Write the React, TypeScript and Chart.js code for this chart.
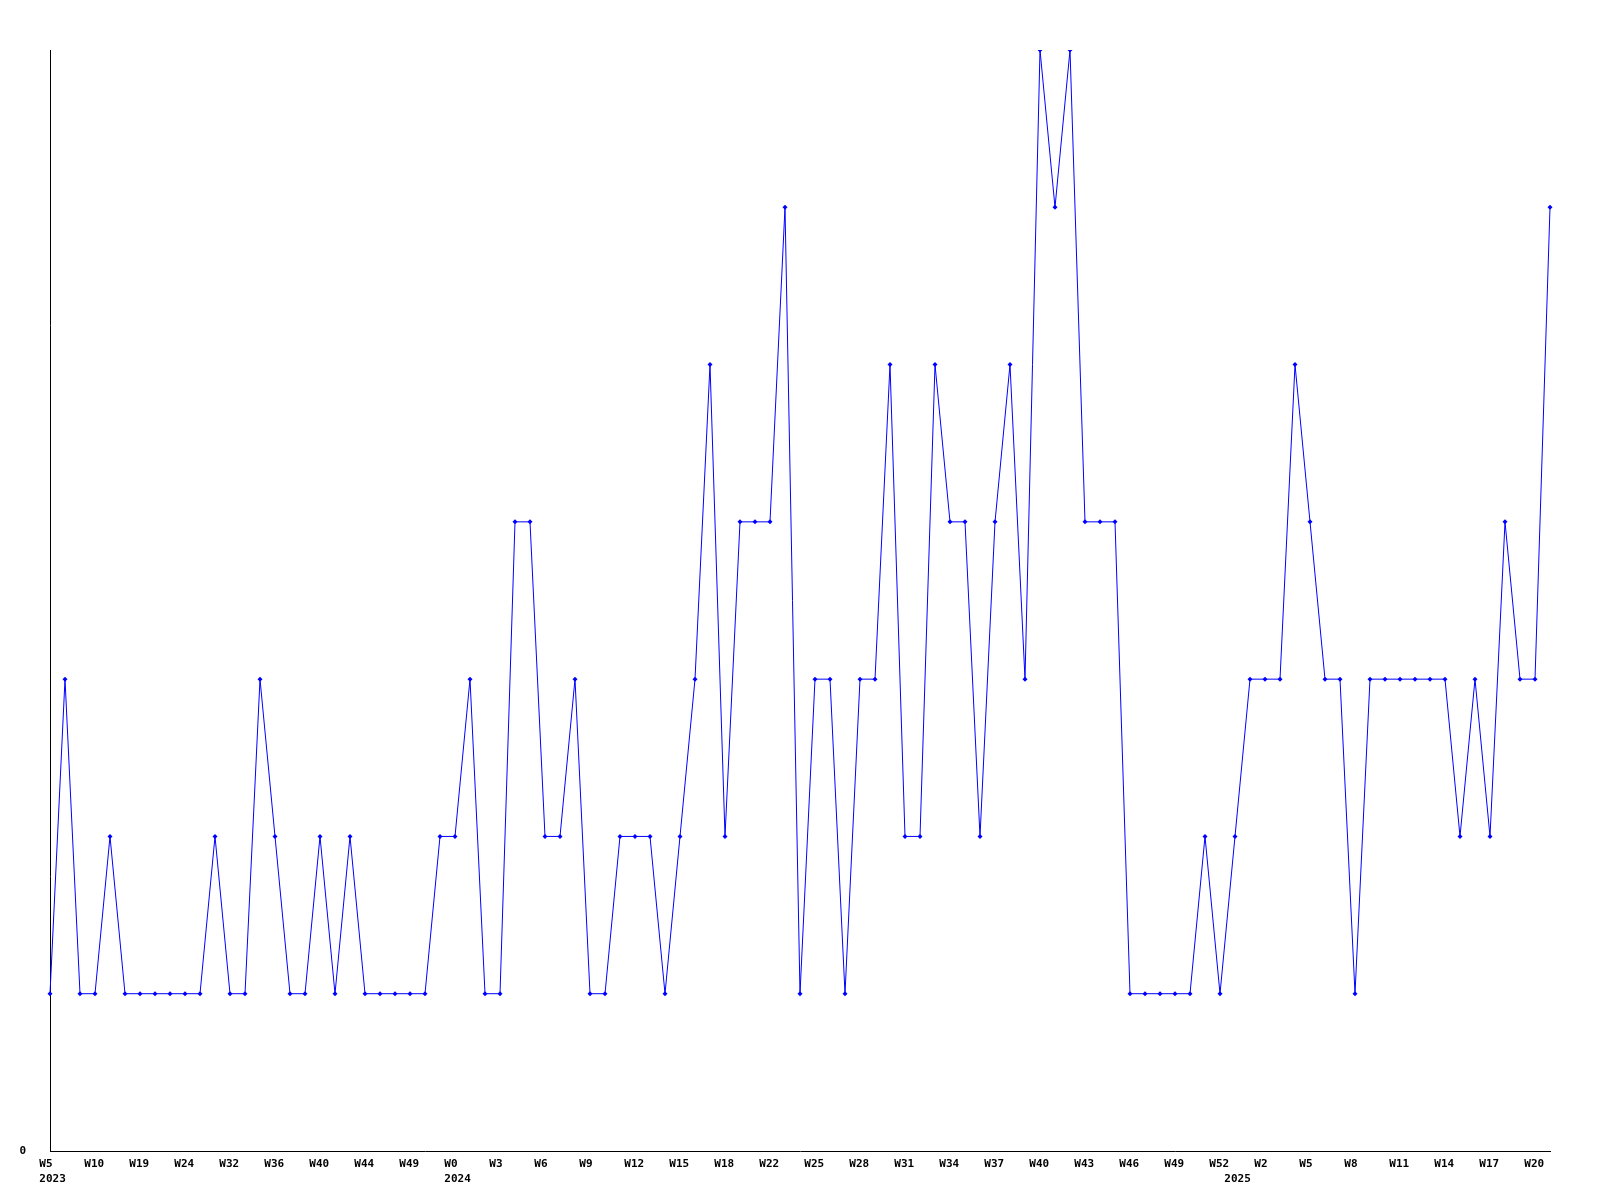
import React, { useEffect, useRef } from "react";
import { Chart, registerables } from "chart.js";

Chart.register(...registerables);

// ISO-like week numbers per year, one per data point
const weeks2023 = [5, 6, 8, 10, 12, 15, 19, 21, 22, 24, 26, 29, 32, 33, 35, 36, 38, 39, 40, 42, 43, 44, 46, 48, 49, 50, 51];
const weeks2024 = [0, 1, 2, 3, 4, 5, 6, 7, 8, 9, 10, 11, 12, 13, 14, 15, 16, 17, 18, 19, 21, 22, 23, 24, 25, 26, 27, 28, 29, 30, 31, 32, 33, 34, 35, 36, 37, 38, 39, 40, 41, 42, 43, 44, 45, 46, 47, 48, 49, 50, 51, 52];
const weeks2025 = [0, 1, 2, 3, 4, 5, 6, 7, 8, 9, 10, 11, 12, 13, 14, 15, 16, 17, 18, 19, 20, 21];

const values2023 = [1, 3, 1, 1, 2, 1, 1, 1, 1, 1, 1, 2, 1, 1, 3, 2, 1, 1, 2, 1, 2, 1, 1, 1, 1, 1, 2];
const values2024 = [2, 3, 1, 1, 4, 4, 2, 2, 3, 1, 1, 2, 2, 2, 1, 2, 3, 5, 2, 4, 4, 4, 6, 1, 3, 3, 1, 3, 3, 5, 2, 2, 5, 4, 4, 2, 4, 5, 3, 7, 6, 7, 4, 4, 4, 1, 1, 1, 1, 1, 2, 1];
const values2025 = [2, 3, 3, 3, 5, 4, 3, 3, 1, 3, 3, 3, 3, 3, 3, 2, 3, 2, 4, 3, 3, 6];

const yearNames = [2023, 2024, 2025];
const weekLists = [weeks2023, weeks2024, weeks2025];
const valueLists = [values2023, values2024, values2025];

const yMin = 0;
const yMax = 7;
const labelEvery = 3;

export default function App() {
  const canvasRef = useRef<HTMLCanvasElement | null>(null);

  useEffect(() => {
    const pointYears: number[] = [];
    const pointWeeks: number[] = [];
    const data: number[] = [];
    weekLists.forEach((wl, yi) => {
      wl.forEach((w, k) => {
        pointYears.push(yearNames[yi]);
        pointWeeks.push(w);
        data.push(valueLists[yi][k]);
      });
    });
    const labels = pointWeeks.map((w, i) => `${pointYears[i]}-W${w}`);

    const font = { family: "'DejaVu Sans Mono', monospace", size: 11, weight: "bold" as const, lineHeight: 1.4 };

    const chart = new Chart(canvasRef.current!, {
      type: "line",
      data: {
        labels,
        datasets: [
          {
            data,
            borderColor: "#0000ff",
            backgroundColor: "#0000ff",
            borderWidth: 1,
            pointStyle: "rectRot",
            pointRadius: 2.5,
            pointBorderWidth: 0,
            pointBackgroundColor: "#0000ff",
            tension: 0,
            fill: false,
          },
        ],
      },
      options: {
        responsive: false,
        animation: false,
        layout: { padding: { left: 0, top: 50, right: 50, bottom: 0 } },
        plugins: { legend: { display: false }, title: { display: false }, tooltip: { enabled: false } },
        scales: {
          x: {
            type: "category",
            offset: false,
            grid: { display: false, drawTicks: false },
            border: { display: true, color: "#000000", width: 1 },
            afterFit: (s: any) => {
              s.height = 49;
            },
            ticks: {
              autoSkip: false,
              maxRotation: 0,
              minRotation: 0,
              align: "start",
              labelOffset: -10.7,
              padding: 5,
              color: "#000000",
              font,
              callback: (_v: any, i: number) => {
                const week = i % labelEvery === 0 ? `W${pointWeeks[i]}` : "";
                const newYear = i === 0 || pointYears[i] !== pointYears[i - 1];
                if (newYear) return [week, String(pointYears[i])];
                return week;
              },
            },
          },
          y: {
            min: yMin,
            max: yMax,
            grid: { display: false, drawTicks: false },
            border: { display: true, color: "#000000", width: 1 },
            afterFit: (s: any) => {
              s.width = 50;
            },
            ticks: {
              stepSize: 7,
              padding: 24,
              color: "#000000",
              font,
              callback: (v: any) => (v === 0 ? "0" : ""),
            },
          },
        },
      },
    });
    return () => chart.destroy();
  }, []);

  return (
    <canvas
      ref={canvasRef}
      width={1600}
      height={1200}
      style={{ position: "absolute", left: 0, top: 0, width: 1600, height: 1200, display: "block" }}
    />
  );
}
